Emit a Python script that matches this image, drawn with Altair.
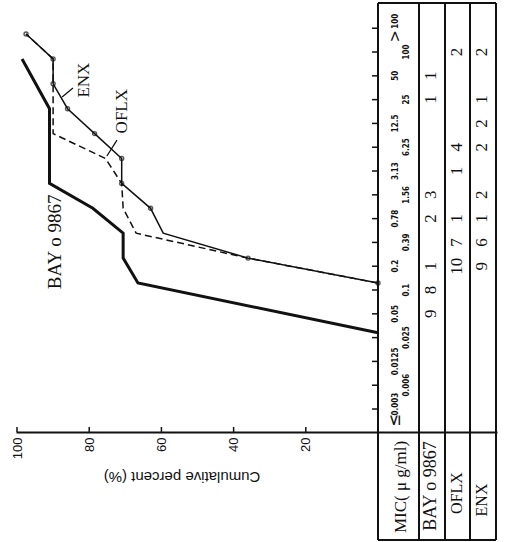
import altair as alt
import pandas as pd

# MIC steps (µg/ml) on the vertical axis, lowest at the bottom
mic_labels = ["≤0.003", "0.006", "0.0125", "0.025", "0.05", "0.1", "0.2", "0.39",
              "0.78", "1.56", "3.13", "6.25", "12.5", "25", "50", "100", ">100"]

# number of strains inhibited at each MIC step
bay_counts = [0, 0, 0, 0, 9, 8, 1, 0, 2, 3, 0, 0, 0, 1, 1, 0, 0]
oflx_counts = [0, 0, 0, 0, 0, 0, 10, 7, 1, 0, 1, 4, 0, 0, 0, 2, 0]
enx_counts = [0, 0, 0, 0, 0, 0, 9, 6, 1, 2, 0, 2, 2, 1, 0, 2, 0]

# cumulative percent curves: MIC step index and percent at each vertex
bay_steps = [3, 5, 6, 7, 8, 9, 12, 14]
bay_pct = [0, 66.5, 70.6, 70.6, 79, 91, 91, 98.6]
oflx_steps = [5, 6, 7, 8, 9, 10, 11, 14, 15]
oflx_pct = [0, 36, 67, 70.6, 71, 75.5, 90, 90, 97.5]
enx_steps = [5, 6, 7, 8, 9, 10, 11, 12, 13, 14, 15]
enx_pct = [0, 36, 59.5, 63, 71, 71, 78.5, 86, 90, 90, 97.5]
enx_marked = [True, True, False, True, True, True, True, True, True, True, True]

pct_ticks = [20, 40, 60, 80, 100]

INK = "#111111"
SERIF = "Liberation Serif"
SANS = "Liberation Sans"
NARROW = "Liberation Sans Narrow, DejaVu Sans Condensed, Liberation Sans"

W, H = 481, 537

# percent runs right-to-left; the strip past 0 % holds the count table
xs = alt.Scale(domain=[-32.96, 100.28], reverse=True, nice=False, zero=False)
y_curve = alt.Scale(domain=[-5.32, 16.245], nice=False, zero=False)
y_table = alt.Scale(domain=[-5.504, 17.06], nice=False, zero=False)

x_axis = alt.Axis(values=pct_ticks, orient="bottom", offset=-108, ticks=False,
                  grid=False, labelAngle=270, labelPadding=5, labelFont=SANS,
                  labelFontSize=13, labelColor=INK, labelFlush=False,
                  domainColor=INK, domainWidth=2, title=None)

one = pd.DataFrame({"k": [0]})


def curve(steps, pct):
    return pd.DataFrame({"step": steps, "pct": pct})


def line_layer(df, **mark):
    return alt.Chart(df).mark_line(color=INK, **mark).encode(
        x=alt.X("pct:Q", scale=xs, axis=x_axis),
        y=alt.Y("step:Q", scale=y_curve, axis=None),
        order="step:Q",
    )


bay_line = line_layer(curve(bay_steps, bay_pct), strokeWidth=3)
oflx_line = line_layer(curve(oflx_steps, oflx_pct), strokeWidth=1.5, strokeDash=[7, 4])
enx_df = curve(enx_steps, enx_pct)
enx_df["marked"] = enx_marked
enx_line = line_layer(enx_df, strokeWidth=1.5)
enx_pts = alt.Chart(enx_df).transform_filter("datum.marked").mark_point(
    shape="circle", size=16, filled=False, color=INK, strokeWidth=1.4
).encode(
    x=alt.X("pct:Q", scale=xs, axis=x_axis),
    y=alt.Y("step:Q", scale=y_curve, axis=None),
)


def curve_label(text, pct, step, size):
    return alt.Chart(one).mark_text(
        text=text, angle=270, font=SERIF, fontSize=size, color=INK,
        align="center", baseline="middle"
    ).encode(
        x=alt.XDatum(pct, scale=xs, axis=x_axis),
        y=alt.YDatum(step, scale=y_curve, axis=None),
    )


def leader(p1, p2, s1, s2):
    return alt.Chart(one).mark_rule(color=INK, strokeWidth=1.3).encode(
        x=alt.XDatum(p1, scale=xs, axis=x_axis), x2=alt.X2Datum(p2),
        y=alt.YDatum(s1, scale=y_curve, axis=None), y2=alt.Y2Datum(s2),
    )


labels = [
    curve_label("BAY o 9867", 89.5, 6.65, 19),
    curve_label("ENX", 81.4, 13.15, 17),
    curve_label("OFLX", 70.9, 11.9, 17),
    leader(84.5, 87.5, 12.83, 12.47),
    leader(72.3, 75.1, 10.74, 10.10),
]

# percent axis ticks point up into the plot
pct_tick_rules = alt.Chart(pd.DataFrame({"pct": pct_ticks})).mark_rule(
    color=INK, strokeWidth=1.5
).encode(
    x=alt.X("pct:Q", scale=xs, axis=x_axis),
    y=alt.value(424), y2=alt.value(429),
)

title = alt.Chart(one).mark_text(
    text="Cumulative percent (%)", angle=180, font=SANS, fontSize=15,
    color=INK, align="center", baseline="middle"
).encode(x=alt.value(166), y=alt.value(474))

# count table and MIC scale
mic_df = pd.DataFrame({"idx": list(range(len(mic_labels))), "label": mic_labels})
mic_df["num"] = mic_df["label"].str.lstrip("≤>")
mic_df["row"] = mic_df["idx"] % 2
last = len(mic_labels) - 1

mic_ticks = alt.Chart(mic_df).mark_rule(color=INK, strokeWidth=1.5).encode(
    y=alt.Y("idx:Q", scale=y_table, axis=None),
    x=alt.value(356), x2=alt.value(362),
)


# with angle 270, dx moves text up the page and dy moves it to the right
def mic_text(flt, xpix, field="num", dx=0, size=8, text=None, weight="bold"):
    mark = dict(angle=270, font=NARROW, fontSize=size, fontWeight=weight,
                color=INK, align="center", baseline="middle", dx=dx)
    if text is not None:
        mark["text"] = text
    enc = dict(y=alt.Y("idx:Q", scale=y_table, axis=None), x=alt.value(xpix))
    if text is None:
        enc["text"] = alt.Text(f"{field}:N")
    return alt.Chart(mic_df).transform_filter(flt).mark_text(**mark).encode(**enc)


mic_layers = [
    mic_text(f"datum.row == 0 && datum.idx > 0 && datum.idx < {last}", 380),
    mic_text(f"datum.row == 1", 391),
    mic_text("datum.idx == 0", 380, dx=5),
    mic_text("datum.idx == 0", 379, dx=-11, size=17, text="≤", weight="normal"),
    mic_text(f"datum.idx == {last}", 380, dx=7),
    mic_text(f"datum.idx == {last}", 379, dx=-8, size=16, text=">", weight="normal"),
]


def count_layer(counts, xpix):
    df = pd.DataFrame({"idx": list(range(len(counts))), "n": counts})
    df = df[df["n"] > 0]
    df["t"] = df["n"].astype(str)
    return alt.Chart(df).mark_text(
        angle=270, font=SERIF, fontSize=17, color=INK,
        align="center", baseline="middle"
    ).encode(
        y=alt.Y("idx:Q", scale=y_table, axis=None),
        x=alt.value(xpix),
        text="t:N",
    )


counts = [
    count_layer(bay_counts, 415),
    count_layer(oflx_counts, 441),
    count_layer(enx_counts, 466),
]


def header(text, xpix, ypix, size):
    return alt.Chart(one).mark_text(
        text=text, angle=270, font=SERIF, fontSize=size, color=INK,
        align="center", baseline="middle"
    ).encode(x=alt.value(xpix), y=alt.value(ypix))


headers = [
    header("MIC( μ g/ml)", 385, 484, 17),
    header("BAY o 9867", 415, 483, 18),
    header("OFLX", 441, 490, 16),
    header("ENX", 466, 497, 16),
]


def vrule(xpix):
    return alt.Chart(one).mark_rule(color=INK, strokeWidth=2).encode(
        x=alt.value(xpix), y=alt.value(0), y2=alt.value(H))


def hrule(ypix):
    return alt.Chart(one).mark_rule(color=INK, strokeWidth=2).encode(
        y=alt.value(ypix), x=alt.value(362), x2=alt.value(480))


grid = [vrule(p) for p in (362, 403, 429, 454, 480)] + [hrule(0), hrule(H)]

chart = alt.layer(
    bay_line, oflx_line, enx_line, enx_pts, pct_tick_rules, title,
    *labels, mic_ticks, *mic_layers, *counts, *headers, *grid,
).resolve_scale(
    y="independent"
).properties(
    width=W, height=H,
    autosize=alt.AutoSizeParams(type="none"),
    padding={"left": 16, "top": 3, "right": 10, "bottom": 2},
    background="white",
).configure_view(stroke=None)

chart.save("out.html", embed_options={"renderer": "svg", "actions": False})
